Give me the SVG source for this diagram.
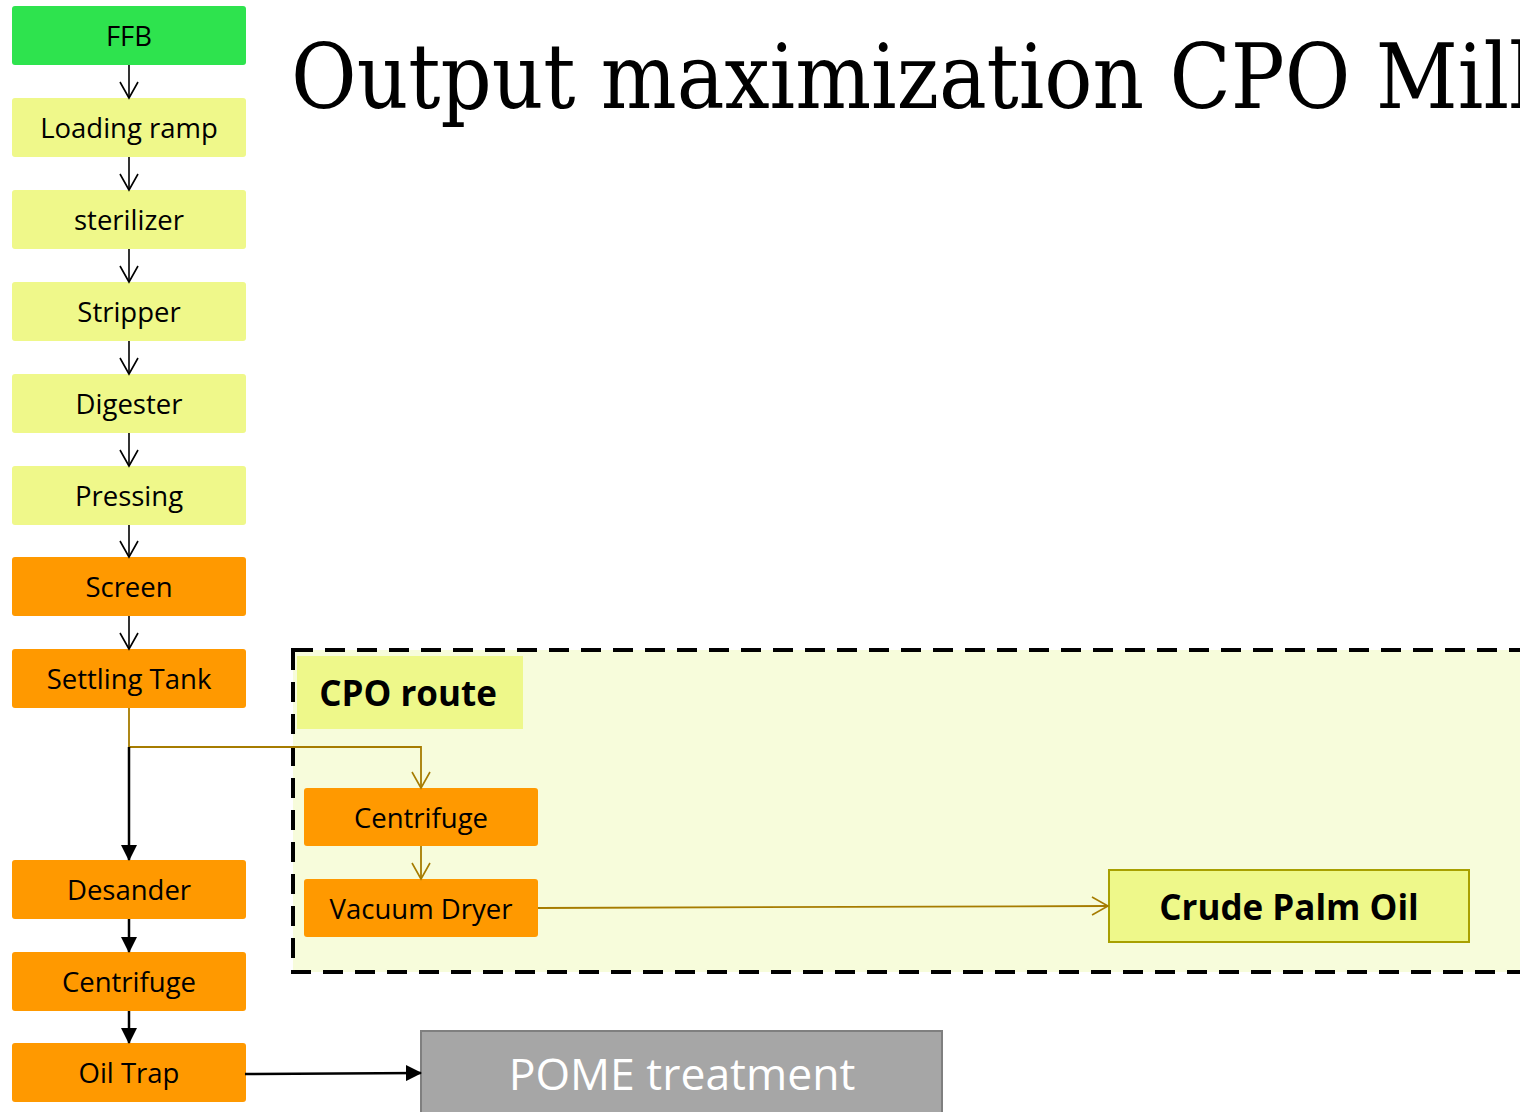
<svg xmlns="http://www.w3.org/2000/svg" width="1520" height="1112" viewBox="0 0 1520 1112">
<defs>
<marker id="openK" viewBox="0 0 20 20" refX="18" refY="10" markerWidth="20" markerHeight="20" markerUnits="userSpaceOnUse" orient="auto">
<path d="M2,1 L18,10 L2,19" fill="none" stroke="#000" stroke-width="1.6"/>
</marker>
<marker id="openO" viewBox="0 0 20 20" refX="18" refY="10" markerWidth="20" markerHeight="20" markerUnits="userSpaceOnUse" orient="auto">
<path d="M2,1 L18,10 L2,19" fill="none" stroke="#A67C00" stroke-width="1.6"/>
</marker>
<marker id="fill" viewBox="0 0 16 16" refX="15" refY="8" markerWidth="16" markerHeight="16" markerUnits="userSpaceOnUse" orient="auto">
<path d="M0,0 L16,8 L0,16 Z" fill="#000"/>
</marker>
</defs>
<style>
.g{fill:#2EE34E}
.y{fill:#EFF88A}
.o{fill:#FF9900}
.t{font-family:"Open Sans","Liberation Sans",sans-serif;font-size:27.5px;fill:#000;text-anchor:middle}
.tb{font-family:"Open Sans","Liberation Sans",sans-serif;font-size:35px;font-weight:bold;fill:#000;text-anchor:middle}
.ck{fill:none;stroke:#000;stroke-width:1.6}
.co{fill:none;stroke:#A67C00;stroke-width:1.8}
.cb{fill:none;stroke:#000;stroke-width:2.5}
</style>
<rect width="1520" height="1112" fill="#fff"/>
<text x="291" y="108" font-family="DejaVu Serif" font-stretch="condensed" font-size="89" fill="#000">Output maximization CPO Mill</text>

<g id="cpo-route">
<rect x="293" y="650" width="1240" height="322" fill="#F7FCDB" stroke="#000" stroke-width="4" stroke-dasharray="20,12"/>
<rect x="297" y="656" width="226" height="73" fill="#EEF88A"/>
<text x="408" y="706" class="tb">CPO route</text>
</g>

<g id="ffb"><rect x="12" y="6" width="234" height="59" rx="3" class="g"/><text x="129" y="46" class="t">FFB</text></g>
<g id="loading-ramp"><rect x="12" y="98" width="234" height="59" rx="3" class="y"/><text x="129" y="138" class="t">Loading ramp</text></g>
<g id="sterilizer"><rect x="12" y="190" width="234" height="59" rx="3" class="y"/><text x="129" y="230" class="t">sterilizer</text></g>
<g id="stripper"><rect x="12" y="282" width="234" height="59" rx="3" class="y"/><text x="129" y="322" class="t">Stripper</text></g>
<g id="digester"><rect x="12" y="374" width="234" height="59" rx="3" class="y"/><text x="129" y="414" class="t">Digester</text></g>
<g id="pressing"><rect x="12" y="466" width="234" height="59" rx="3" class="y"/><text x="129" y="506" class="t">Pressing</text></g>
<g id="screen"><rect x="12" y="557" width="234" height="59" rx="3" class="o"/><text x="129" y="597" class="t">Screen</text></g>
<g id="settling-tank"><rect x="12" y="649" width="234" height="59" rx="3" class="o"/><text x="129" y="689" class="t">Settling Tank</text></g>
<g id="desander"><rect x="12" y="860" width="234" height="59" rx="3" class="o"/><text x="129" y="900" class="t">Desander</text></g>
<g id="centrifuge-1"><rect x="12" y="952" width="234" height="59" rx="3" class="o"/><text x="129" y="992" class="t">Centrifuge</text></g>
<g id="oil-trap"><rect x="12" y="1043" width="234" height="59" rx="3" class="o"/><text x="129" y="1083" class="t">Oil Trap</text></g>
<g id="centrifuge-2"><rect x="304" y="788" width="234" height="58" rx="3" class="o"/><text x="421" y="828" class="t">Centrifuge</text></g>
<g id="vacuum-dryer"><rect x="304" y="879" width="234" height="58" rx="3" class="o"/><text x="421" y="919" class="t">Vacuum Dryer</text></g>
<g id="crude-palm-oil"><rect x="1109" y="870" width="360" height="72" fill="#EEF88A" stroke="#A8A000" stroke-width="2"/><text x="1289" y="920" class="tb">Crude Palm Oil</text></g>
<g id="pome"><rect x="421" y="1031" width="521" height="100" fill="#A6A6A6" stroke="#7F7F7F" stroke-width="2"/><text x="682" y="1090" font-family="Open Sans, Liberation Sans, sans-serif" font-size="44.5" fill="#fff" text-anchor="middle">POME treatment</text></g>

<g id="connectors">
<line x1="129" y1="65" x2="129" y2="98" class="ck" marker-end="url(#openK)"/>
<line x1="129" y1="157" x2="129" y2="190" class="ck" marker-end="url(#openK)"/>
<line x1="129" y1="249" x2="129" y2="282" class="ck" marker-end="url(#openK)"/>
<line x1="129" y1="341" x2="129" y2="374" class="ck" marker-end="url(#openK)"/>
<line x1="129" y1="433" x2="129" y2="466" class="ck" marker-end="url(#openK)"/>
<line x1="129" y1="525" x2="129" y2="557" class="ck" marker-end="url(#openK)"/>
<line x1="129" y1="616" x2="129" y2="649" class="ck" marker-end="url(#openK)"/>
<polyline points="129,708 129,747 421,747 421,788" class="co" marker-end="url(#openO)"/>
<line x1="129" y1="747" x2="129" y2="860" class="cb" marker-end="url(#fill)"/>
<line x1="421" y1="846" x2="421" y2="879" class="co" marker-end="url(#openO)"/>
<line x1="538" y1="908" x2="1108" y2="906" class="co" marker-end="url(#openO)"/>
<line x1="129" y1="919" x2="129" y2="952" class="cb" marker-end="url(#fill)"/>
<line x1="129" y1="1011" x2="129" y2="1043" class="cb" marker-end="url(#fill)"/>
<line x1="245" y1="1074" x2="421" y2="1073" class="cb" marker-end="url(#fill)"/>
</g>
</svg>
